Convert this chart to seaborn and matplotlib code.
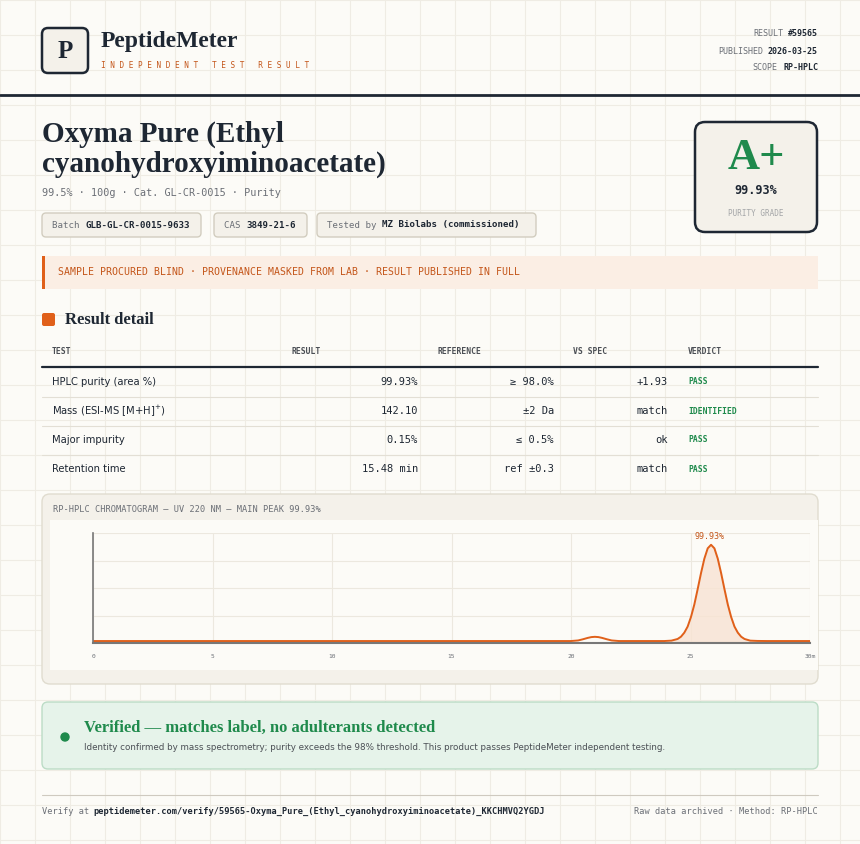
import matplotlib
matplotlib.use("Agg")
import matplotlib.pyplot as plt
from matplotlib.patches import FancyBboxPatch, Rectangle
import seaborn as sns
import pandas as pd

sns.set_theme(style="white")
plt.rcParams['font.family'] = ['DejaVu Sans']

# ---- data ----
time_min = [0, 5, 10, 15, 20.0, 20.3, 20.5, 20.7, 20.85, 21.0, 21.15, 21.3, 21.5, 21.7, 22.0, 23.0, 23.9, 24.2, 24.46,
            24.6, 24.74, 24.88, 25.02, 25.16, 25.3, 25.44, 25.58, 25.72, 25.86, 26.0, 26.14, 26.28, 26.42,
            26.56, 26.7, 26.84, 26.98, 27.12, 27.26, 27.5, 27.8, 28.2, 30]
absorbance = [0.02, 0.02, 0.02, 0.02, 0.02, 0.026, 0.038, 0.052, 0.06, 0.063, 0.06, 0.052, 0.038, 0.026, 0.02, 0.02,
              0.02, 0.024, 0.041, 0.064, 0.105, 0.167, 0.265, 0.392, 0.549, 0.712, 0.859, 0.964, 1.0, 0.964, 0.859,
              0.712, 0.549, 0.392, 0.265, 0.167, 0.105, 0.064, 0.041, 0.024, 0.021, 0.02, 0.02]
x_ticks = [0, 5, 10, 15, 20, 25, 30]
x_tick_labels = ["0", "5", "10", "15", "20", "25", "30m"]
peak_label = "99.93%"

tests = ["HPLC purity (area %)", "Mass (ESI-MS [M+H]$^{+}$)", "Major impurity", "Retention time"]
results = ["99.93%", "142.10", "0.15%", "15.48 min"]
references = ["≥ 98.0%", "±2 Da", "≤ 0.5%", "ref ±0.3"]
vs_spec = ["+1.93", "match", "ok", "match"]
verdicts = ["PASS", "IDENTIFIED", "PASS", "PASS"]

INK = "#1e2733"
ORANGE = "#e0601a"
GREEN = "#1f8a4c"
MUTED = "#6b6f76"
BG = "#fcfbf7"
MONO = "DejaVu Sans Mono"
SERIF = "Liberation Serif"

fig = plt.figure(figsize=(8.6, 8.44), dpi=100, facecolor=BG)
ax = fig.add_axes([0, 0, 1, 1])
ax.set_xlim(0, 860); ax.set_ylim(844, 0); ax.axis("off")

for gx in range(0, 861, 35):
    ax.plot([gx, gx], [0, 844], color="#efece4", lw=0.8, zorder=0)
for gy in range(0, 845, 35):
    ax.plot([0, 860], [gy, gy], color="#efece4", lw=0.8, zorder=0)

def box(x, y, w, h, fc, ec, lw=1, r=4, z=1):
    p = FancyBboxPatch((x, y), w, h, boxstyle=f"round,pad=0,rounding_size={r}", fc=fc, ec=ec, lw=lw, zorder=z)
    ax.add_patch(p)

def t(x, y, s, size=8, color=INK, ha="left", family=MONO, weight="normal", z=5, **kw):
    ax.text(x, y, s, fontsize=size, color=color, ha=ha, va="center", family=family, weight=weight, zorder=z, **kw)

def mono_w(s, size):
    return len(s) * 0.602 * size * 100 / 72

# header
box(42, 28, 46, 45, "#f4f1ea", INK, lw=1.8, r=6)
t(65, 51, "P", 18, INK, "center", SERIF, "bold")
t(101, 42, "PeptideMeter", 17, INK, family=SERIF, weight="bold")
t(101, 65, "I N D E P E N D E N T   T E S T   R E S U L T", 5.6, "#c4561a")
for y, lab, val in [(34, "RESULT", "#59565"), (51, "PUBLISHED", "2026-03-25"), (68, "SCOPE", "RP-HPLC")]:
    t(818, y, val, 6, INK, "right", weight="bold")
    t(818 - mono_w(val + " ", 6), y, lab, 6, MUTED, "right")
ax.plot([0, 860], [95, 95], color=INK, lw=2, zorder=3)

# title
t(42, 134, "Oxyma Pure (Ethyl", 21, INK, family=SERIF, weight="bold")
t(42, 164, "cyanohydroxyiminoacetate)", 21, INK, family=SERIF, weight="bold")
t(42, 193, "99.5% · 100g · Cat. GL-CR-0015 · Purity", 7.3, MUTED)
chips = [(42, 159, "Batch ", "GLB-GL-CR-0015-9633"), (214, 93, "CAS ", "3849-21-6"), (317, 219, "Tested by ", "MZ Biolabs (commissioned)")]
for x, w, a, b in chips:
    box(x, 213, w, 24, "#f4f1ea", "#d2cdbf", lw=1, r=4)
    t(x + 10, 225, a, 6.6, MUTED)
    t(x + 10 + mono_w(a, 6.6), 225, b, 6.6, INK, weight="bold")

# grade box
box(695, 122, 122, 110, "#f4f1ea", INK, lw=1.8, r=10)
t(756, 158, "A+", 32, GREEN, "center", SERIF, "bold")
t(756, 191, "99.93%", 8.5, INK, "center", weight="bold")
t(756, 213, "PURITY GRADE", 5.5, "#a4a6a8", "center")

# banner
ax.add_patch(Rectangle((42, 256), 776, 33, fc="#fbeee4", ec="none", zorder=1))
ax.add_patch(Rectangle((42, 256), 3, 33, fc=ORANGE, ec="none", zorder=2))
t(58, 272, "SAMPLE PROCURED BLIND · PROVENANCE MASKED FROM LAB · RESULT PUBLISHED IN FULL", 7.1, "#c4561a")

# result detail
ax.add_patch(FancyBboxPatch((42, 313), 13, 13, boxstyle="round,pad=0,rounding_size=2", fc=ORANGE, ec="none", zorder=2))
t(65, 320, "Result detail", 12, INK, family=SERIF, weight="bold")

hdr_y = 352
for x, s in [(52, "TEST"), (292, "RESULT"), (437, "REFERENCE"), (573, "VS SPEC"), (688, "VERDICT")]:
    t(x, hdr_y, s, 5.8, "#4b4f55", weight="bold")
ax.plot([42, 818], [367, 367], color=INK, lw=1.6, zorder=3)
for i in range(len(tests)):
    y = 382 + 29 * i
    t(52, y, tests[i], 7.2, INK, family="DejaVu Sans")
    t(418, y, results[i], 7.5, INK, "right")
    t(554, y, references[i], 7.5, INK, "right")
    t(668, y, vs_spec[i], 7.5, INK, "right")
    t(688, y, verdicts[i], 5.8, GREEN, weight="bold")
    if i < 3:
        ax.plot([42, 818], [y + 15, y + 15], color="#e3dfd5", lw=0.8, zorder=3)

# chromatogram panel
box(42, 494, 776, 190, "#f4f1ea", "#e0dccf", lw=1, r=8)
t(53, 510, "RP-HPLC CHROMATOGRAM — UV 220 NM — MAIN PEAK 99.93%", 6.2, MUTED)
ax.add_patch(Rectangle((50, 520), 768, 150, fc=BG, ec="none", zorder=2))

cax = fig.add_axes([93 / 860, 1 - 643 / 844, (810 - 93) / 860, (643 - 533) / 844])
cax.set_facecolor(BG)
df = pd.DataFrame({"t": time_min, "a": absorbance})
cax.fill_between(time_min, absorbance, 0.02, where=[v > 24 for v in time_min], color="#f8e3d3", alpha=0.8)
sns.lineplot(data=df, x="t", y="a", ax=cax, color=ORANGE, lw=1.4)
cax.set_xlim(0, 30); cax.set_ylim(0, 1.12)
cax.set_xticks(x_ticks); cax.set_xticklabels(x_tick_labels, fontsize=4.5, color=MUTED, family=MONO)
cax.set_yticks([0.28, 0.56, 0.84, 1.12]); cax.set_yticklabels([])
cax.grid(True, color="#ece8df", lw=0.8)
cax.tick_params(length=0, pad=8)
cax.set_xlabel(""); cax.set_ylabel("")
for s in ["top", "right"]:
    cax.spines[s].set_visible(False)
cax.spines["left"].set_color("#777"); cax.spines["bottom"].set_color("#777")
cax.spines["left"].set_linewidth(1.2); cax.spines["bottom"].set_linewidth(1.5)
cax.text(25.8, 1.04, peak_label, fontsize=6, color="#c4561a", ha="center", va="bottom", family=MONO)

# verified box
box(42, 702, 776, 67, "#e6f3ea", "#bcdcc6", lw=1, r=6)
ax.add_patch(plt.Circle((65, 737), 4, color=GREEN, zorder=4))
t(84, 728, "Verified — matches label, no adulterants detected", 12, GREEN, family=SERIF, weight="bold")
t(84, 748, "Identity confirmed by mass spectrometry; purity exceeds the 98% threshold. This product passes PeptideMeter independent testing.", 6.3, "#4b4f55", family="DejaVu Sans")

ax.plot([42, 818], [795, 795], color="#cfcac0", lw=0.8)
t(42, 811, "Verify at ", 6.2, MUTED)
t(42 + mono_w("Verify at ", 6.2), 811, "peptidemeter.com/verify/59565-Oxyma_Pure_(Ethyl_cyanohydroxyiminoacetate)_KKCHMVQ2YGDJ", 6.2, INK, weight="bold")
t(818, 811, "Raw data archived · Method: RP-HPLC", 6.2, MUTED, "right")

fig.savefig("out.png", dpi=100, facecolor=BG)
